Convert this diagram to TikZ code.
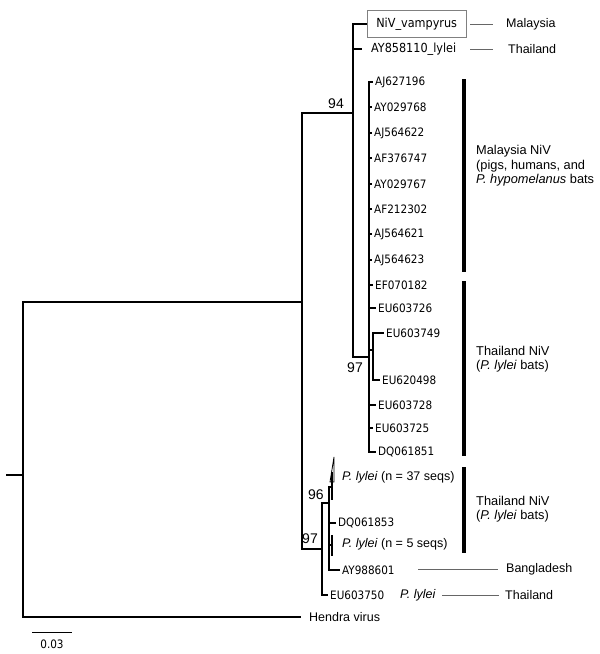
\documentclass[tikz,border=0pt]{standalone}
\usepackage{fontspec}
\setmainfont{Liberation Sans}
\newfontfamily\accfont{DejaVu Sans Condensed}
\begin{document}
\begin{tikzpicture}[x=1pt,y=-1pt,
   branche/.style={line width=1.6pt},
   trait/.style={gray!80!black, line width=0.8pt},
   barre/.style={line width=4pt},
   feuille/.style={anchor=west, inner xsep=2pt, inner ysep=0pt, font=\accfont\fontsize{11.6}{11.6}\selectfont},
   lieu/.style={anchor=west, inner sep=0pt, font=\fontsize{12.5}{14}\selectfont},
   groupe/.style={anchor=west, align=left, inner sep=0pt, font=\fontsize{12.8}{14.5}\selectfont},
   appui/.style={inner sep=0pt, font=\fontsize{14}{14}\selectfont}]
         \useasboundingbox (0,0) rectangle (600,654);

         % Noeuds internes de l'arbre
         \coordinate (base) at (6,475);
         \coordinate (racine) at (23,475);
         \coordinate (ingroupe) at (302,302);
         \coordinate (n94) at (353,113);
         \coordinate (n97a) at (369,357);
         \coordinate (nsub) at (373,350);
         \coordinate (n97b) at (322,549);
         \coordinate (n96) at (329,503);
         \coordinate (n37) at (332,487);
         \coordinate (n5) at (332,545);

         % Feuilles du haut
         \node[feuille, draw=gray, minimum height=27pt, minimum width=99pt, font=\accfont\fontsize{12.5}{12.5}\selectfont] (vamp) at (367,24) {NiV\_vampyrus};
         \node[feuille, inner xsep=9pt, font=\accfont\fontsize{12.5}{12.5}\selectfont] (ay858) at (362,49) {AY858110\_lylei};

         % Feuilles de la polytomie (nom/y/x)
         \foreach \nom/\ye/\xe in {AJ627196/82/373, AY029768/107/372, AJ564622/133/372, AF376747/158/372,
            AY029767/184/372, AF212302/209/372, AJ564621/234/372, AJ564623/260/372,
            EF070182/285/373, EU603726/308/376, EU603728/405/376, EU603725/428/373, DQ061851/452/376} {
            \node[feuille] (\nom) at (\xe,\ye) {\nom};
            \draw[branche] (n97a) |- (\nom.west);
         }
         \node[feuille] (EU603749) at (384,333) {EU603749};
         \node[feuille] (EU620498) at (380,380) {EU620498};

         % Feuilles du bas
         \node[lieu] (p37) at (342,477) {\textit{P. lylei} (n = 37 seqs)};
         \node[feuille] (DQ061853) at (336,523) {DQ061853};
         \node[lieu] (p5) at (342,544) {\textit{P. lylei} (n = 5 seqs)};
         \node[feuille] (AY988601) at (340,570) {AY988601};
         \node[feuille] (EU603750) at (328,595) {EU603750};
         \node[lieu] (pl750) at (400,595) {\textit{P. lylei}};
         \node[lieu, inner xsep=8pt] (hendra) at (301,617) {Hendra virus};

         % Branches
         \draw[branche] (base) -- (racine);
         \draw[branche] (racine) |- (ingroupe);
         \draw[branche] (racine) |- (hendra.west);
         \draw[branche] (ingroupe) |- (n94);
         \draw[branche] (ingroupe) |- (n97b);
         \draw[branche] (n94) |- (vamp.west);
         \draw[branche] (n94) |- (ay858.west);
         \draw[branche] (n94) |- (n97a);
         \draw[branche] (n97a) |- (nsub);
         \draw[branche] (nsub) |- (EU603749.west);
         \draw[branche] (nsub) |- (EU620498.west);
         \draw[branche] (n97b) |- (n96);
         \draw[branche] (n97b) |- (EU603750.west);
         \draw[branche] (n96) |- (n37);
         \draw[branche] (n96) |- (DQ061853.west);
         \draw[branche] (n96) |- (n5);
         \draw[branche] (n96) |- (AY988601.west);

         % Clades reduits
         \draw[branche] (n37) ++(0,-15) -- ++(0,28);
         \draw[line width=0.8pt] (330,482) -- (334,457) -- (334,482) -- cycle;
         \draw[branche] (n5) ++(0,-10) -- ++(0,21);

         % Valeurs de bootstrap
         \node[appui] (b94) at (336,104) {94};
         \node[appui] (b97a) at (355,368) {97};
         \node[appui] (b96) at (316,495) {96};
         \node[appui] (b97b) at (310,539) {97};

         % Origines geographiques
         \node[lieu] (locMy) at (506,24) {Malaysia};
         \node[lieu] (locTh) at (508,49) {Thailand};
         \node[lieu] (locBd) at (506,569) {Bangladesh};
         \node[lieu] (locTh2) at (505,595) {Thailand};
         \coordinate (gMy) at (470,24);
         \coordinate (gTh) at (470,49);
         \coordinate (gBd) at (418,569);
         \coordinate (gTh2) at (442,595);
         \draw[trait] (gMy) -- ([xshift=-13pt]locMy.west);
         \draw[trait] (gTh) -- ([xshift=-15pt]locTh.west);
         \draw[trait] (gBd) -- ([xshift=-8pt]locBd.west);
         \draw[trait] (gTh2) -- ([xshift=-6pt]locTh2.west);

         % Barres des groupes
         \draw[barre] (464,79) -- (464,272);
         \draw[barre] (464,281) -- (464,456);
         \draw[barre] (464,467) -- (464,553);
         \node[groupe] (grMy) at (476,166) {Malaysia NiV\\(pigs, humans, and\\\textit{P. hypomelanus} bats};
         \node[groupe] (grTh) at (476,359) {Thailand NiV\\(\textit{P. lylei} bats)};
         \node[groupe] (grTh2) at (476,509) {Thailand NiV\\(\textit{P. lylei} bats)};

         % Echelle
         \draw[line width=1pt] (32,632) -- (72,632);
         \node[inner sep=0pt, font=\accfont\fontsize{11.6}{11.6}\selectfont] (echelle) at (52,644) {0.03};
      \end{tikzpicture}
\end{document}
